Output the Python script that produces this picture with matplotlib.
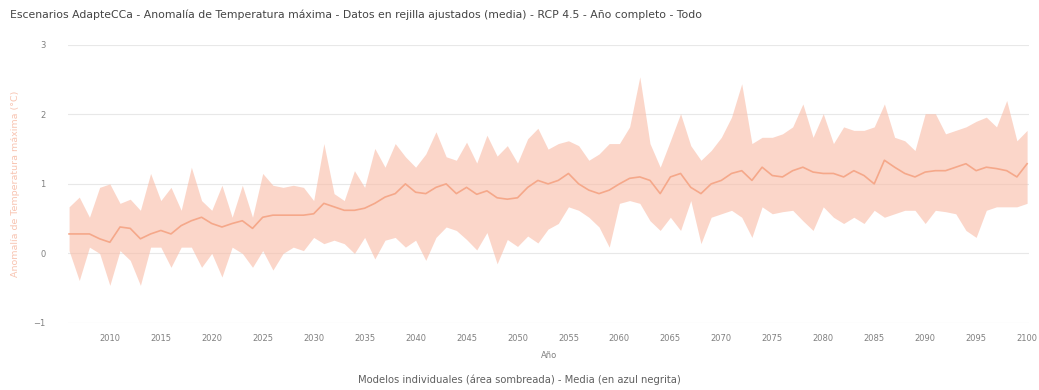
import matplotlib
matplotlib.use("Agg")
import matplotlib.pyplot as plt
import numpy as np

years = list(range(2006, 2101))

mean_vals = [0.28, 0.28, 0.28, 0.21, 0.16, 0.38, 0.36, 0.21, 0.28, 0.33,
             0.28, 0.40, 0.47, 0.52, 0.43, 0.38, 0.43, 0.47, 0.36, 0.52,
             0.55, 0.55, 0.55, 0.55, 0.57, 0.72, 0.67, 0.62, 0.62, 0.65,
             0.72, 0.81, 0.86, 1.00, 0.88, 0.86, 0.95, 1.00, 0.86, 0.95,
             0.85, 0.90, 0.80, 0.78, 0.80, 0.95, 1.05, 1.00, 1.05, 1.15,
             1.00, 0.91, 0.86, 0.91, 1.00, 1.08, 1.10, 1.05, 0.86, 1.10,
             1.15, 0.95, 0.86, 1.00, 1.05, 1.15, 1.19, 1.05, 1.24, 1.12,
             1.10, 1.19, 1.24, 1.17, 1.15, 1.15, 1.10, 1.19, 1.12, 1.00,
             1.34, 1.24, 1.15, 1.10, 1.17, 1.19, 1.19, 1.24, 1.29, 1.19,
             1.24, 1.22, 1.19, 1.10, 1.29]

upper_vals = [0.67, 0.81, 0.52, 0.95, 1.00, 0.72, 0.78, 0.62, 1.15, 0.76,
              0.95, 0.62, 1.24, 0.76, 0.62, 0.98, 0.52, 0.98, 0.52, 1.15,
              0.98, 0.95, 0.98, 0.95, 0.76, 1.58, 0.86, 0.76, 1.19, 0.95,
              1.51, 1.24, 1.58, 1.39, 1.24, 1.43, 1.75, 1.39, 1.34, 1.60,
              1.30, 1.70, 1.40, 1.55, 1.30, 1.65, 1.80, 1.50, 1.58, 1.62,
              1.55, 1.34, 1.43, 1.58, 1.58, 1.82, 2.54, 1.58, 1.24, 1.62,
              2.01, 1.55, 1.34, 1.48, 1.67, 1.96, 2.44, 1.58, 1.67, 1.67,
              1.72, 1.82, 2.15, 1.67, 2.01, 1.58, 1.82, 1.77, 1.77, 1.82,
              2.15, 1.67, 1.62, 1.48, 2.01, 2.01, 1.72, 1.77, 1.82, 1.90,
              1.96, 1.82, 2.20, 1.62, 1.77]

lower_vals = [0.04, -0.39, 0.09, 0.00, -0.46, 0.04, -0.10, -0.46, 0.09, 0.09,
              -0.20, 0.09, 0.09, -0.20, 0.00, -0.34, 0.09, 0.00, -0.20, 0.04,
              -0.24, 0.00, 0.09, 0.04, 0.23, 0.14, 0.19, 0.14, 0.00, 0.23,
              -0.08, 0.19, 0.23, 0.09, 0.19, -0.10, 0.23, 0.38, 0.33, 0.20,
              0.05, 0.30, -0.15, 0.20, 0.10, 0.25, 0.15, 0.35, 0.43, 0.67,
              0.62, 0.52, 0.38, 0.09, 0.72, 0.76, 0.72, 0.47, 0.33, 0.52,
              0.33, 0.76, 0.14, 0.52, 0.57, 0.62, 0.52, 0.23, 0.67, 0.57,
              0.60, 0.62, 0.47, 0.33, 0.67, 0.52, 0.43, 0.52, 0.43, 0.62,
              0.52, 0.57, 0.62, 0.62, 0.43, 0.62, 0.60, 0.57, 0.33, 0.23,
              0.62, 0.67, 0.67, 0.67, 0.72]

x_ticks = list(range(2010, 2101, 5))
y_ticks = [-1, 0, 1, 2, 3]

title = ("Escenarios AdapteCCa - Anomalía de Temperatura máxima - Datos en rejilla "
         "ajustados (media) - RCP 4.5 - Año completo - Todo")
y_label = "Anomalía de Temperatura máxima (°C)"
x_label = "Año"
footer = "Modelos individuales (área sombreada) - Media (en azul negrita)"

fig = plt.figure(figsize=(10.39, 3.90), dpi=100)
ax = fig.add_axes([0.0655, 0.172, 0.925, 0.713])

ax.fill_between(years, lower_vals, upper_vals, color="#f9bba6", alpha=0.6,
                linewidth=0)
ax.plot(years, mean_vals, color="#f5a88a", linewidth=1.2)

ax.set_xlim(2005.9, 2100.2)
ax.set_ylim(-1, 3)
ax.set_xticks(x_ticks)
ax.set_yticks(y_ticks)
ax.tick_params(axis="both", length=0, labelsize=6, colors="#808080")
ax.tick_params(axis="y", pad=16)
ax.tick_params(axis="x", pad=8)
ax.grid(axis="y", color="#e8e8e8", linewidth=0.8)
ax.set_axisbelow(True)
for s in ax.spines.values():
    s.set_visible(False)

ax.set_ylabel(y_label, color="#f8c4b1", fontsize=6.8, labelpad=10)
ax.set_xlabel(x_label, color="#808080", fontsize=6, labelpad=6)

fig.text(0.0096, 0.962, title, fontsize=7.85, color="#444444", ha="left", va="center")
fig.text(0.50, 0.026, footer, fontsize=7.2, color="#606060", ha="center", va="center")

fig.savefig("out.png", dpi=100, facecolor="white")
